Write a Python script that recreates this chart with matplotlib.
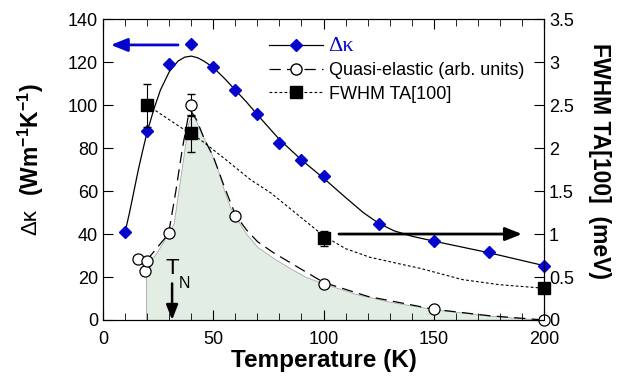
import numpy as np
import matplotlib.pyplot as plt
from matplotlib.lines import Line2D

plt.rcParams['font.family'] = ['Liberation Sans', 'DejaVu Sans']
plt.rcParams['mathtext.fontset'] = 'custom'
plt.rcParams['mathtext.rm'] = 'Liberation Sans:bold'
plt.rcParams['mathtext.default'] = 'rm'

blue = '#0505cc'

# delta kappa data (left axis)
t_kappa = [10, 20, 30, 40, 50, 60, 70, 80, 90, 100, 125, 150, 175, 200]
kappa = [41, 88, 119, 128.4, 117.7, 107, 96, 82.3, 74.5, 67, 44.6, 36.7, 31.6, 25]

# fit curve through delta kappa
t_kfit = [10, 12, 14, 16, 18, 20, 23, 26, 30, 34, 37, 40, 43, 46, 50, 55, 60, 65, 70,
          80, 90, 100, 110, 118, 125, 132, 140, 150, 175, 200]
kfit = [41, 50, 60, 70, 79, 87.5, 98, 107, 115.5, 120.5, 122.3, 122.8, 122, 120.3, 117.5,
        112.5, 107, 101.5, 95.5, 84, 74.5, 66, 57, 50, 45, 41.5, 39, 36.7, 31.3, 25.3]

# quasi-elastic intensity (left axis units)
t_qe = [16, 18.8, 20, 30, 40, 60, 100, 150, 200]
qe = [28.4, 23, 27.4, 40.5, 100, 48.3, 16.7, 5, 0]
t_qe_err = [40]
qe_err_val = [100]
qe_err = [5]

# quasi-elastic dashed guide
t_qe_line = [20, 24, 28, 30, 33, 36, 38.5, 40, 42.5, 46, 50, 55, 60, 65, 70, 77, 86, 100,
             120, 150, 175, 200]
qe_line = [28, 33, 38, 42, 60, 80, 94, 97, 93, 84, 76, 62, 49, 42, 36.5, 31.5, 26, 17.5,
           11, 5, 2, 0]

# shaded area boundary
t_fill = [19.5, 19.5, 21, 24, 27, 30, 32, 34, 36, 38.6, 40.4, 42, 45, 48.5, 52, 55, 57.6,
          60, 65, 70, 77, 85, 92, 100, 115, 130, 150, 175, 200]
fill = [0, 22, 27, 31, 36, 41, 45, 59, 73, 91.6, 96, 93, 86, 79, 70, 60, 52.5, 48, 40,
        34, 29, 24, 20, 17, 12, 8.5, 5, 2, 0]

# FWHM TA[100] (right axis, meV)
t_fwhm = [20, 40, 100, 200]
fwhm = [2.5, 2.17, 0.95, 0.37]
fwhm_err = [0.25, 0.21, 0.09, 0]

t_ffit = [20, 23, 30, 40, 44, 54, 67, 76, 88, 100, 110, 121, 135, 144, 163, 180, 200]
ffit = [2.5, 2.45, 2.33, 2.16, 2.1, 1.9, 1.63, 1.48, 1.23, 0.98, 0.83, 0.73, 0.65, 0.6,
        0.47, 0.41, 0.37]

fig = plt.figure(figsize=(6.21, 3.83), dpi=100)
ax = fig.add_axes([0.166, 0.1645, 0.710, 0.7855])
ax2 = ax.twinx()

ax.fill_between(t_fill, fill, 0, color='#e2ede3', edgecolor='#a8a8a8', lw=0.6, zorder=1)
ax.plot(t_qe_line, qe_line, color='black', lw=0.9, dashes=(9, 5), zorder=2)
ax.errorbar(t_qe_err, qe_err_val, yerr=qe_err, fmt='none', ecolor='black', elinewidth=0.8,
            capsize=3, zorder=3)
ax.plot(t_qe, qe, 'o', ms=8, mfc='white', mec='black', mew=0.9, zorder=4, clip_on=False)

ax.plot(t_kfit, kfit, color='black', lw=0.9, zorder=5)
ax.plot(t_kappa, kappa, 'D', ms=6, color=blue, mec=blue, zorder=6, clip_on=False)

ax2.plot(t_ffit, ffit, color='black', lw=0.8, dashes=(2.5, 2), zorder=2)
eb = ax2.errorbar(t_fwhm, fwhm, yerr=fwhm_err, fmt='s', ms=8.5, color='black',
                  ecolor='black', elinewidth=0.8, capsize=3, zorder=3)
eb[0].set_clip_on(False)

ax.set_xlim(0, 200)
ax.set_ylim(0, 140)
ax2.set_ylim(0, 3.5)
ax.set_xticks([0, 50, 100, 150, 200])
ax.set_xticks(np.arange(0, 201, 10), minor=True)
ax.set_yticks(np.arange(0, 141, 20))
ax2.set_yticks([0, 0.5, 1, 1.5, 2, 2.5, 3, 3.5])
ax2.set_yticklabels(['0', '0.5', '1', '1.5', '2', '2.5', '3', '3.5'])
ax.tick_params(axis='x', which='both', direction='in', top=True, labelsize=13, pad=8)
ax.tick_params(axis='x', which='major', length=7)
ax.tick_params(axis='x', which='minor', length=5)
ax.tick_params(axis='y', direction='in', length=7, labelsize=13, right=False)
ax2.tick_params(axis='y', direction='in', length=7, labelsize=13)

ax.set_xlabel('Temperature (K)', fontsize=17.5, fontweight='bold', labelpad=1)
fig.text(0.049, 0.42, 'Δκ', rotation=90, fontsize=16, ha='center', va='center')
fig.text(0.050, 0.635, '(Wm$^{-1}$K$^{-1}$)', rotation=90, fontsize=16.5,
         fontweight='bold', ha='center', va='center')
fig.text(0.966, 0.58, 'FWHM TA[100]  (meV)', rotation=270, fontsize=16.5,
         fontweight='bold', ha='center', va='center')

# arrows marking which axis each curve belongs to
ax.annotate('', xy=(3.5, 128), xytext=(34, 128),
            arrowprops=dict(arrowstyle='-|>,head_length=1.0,head_width=0.4', color=blue,
                            lw=2, shrinkA=0, shrinkB=0))
ax2.annotate('', xy=(190, 1.0), xytext=(107, 1.0),
             arrowprops=dict(arrowstyle='-|>,head_length=1.0,head_width=0.4', color='black',
                             lw=2, shrinkA=0, shrinkB=0))

# T_N marker
ax.annotate('', xy=(31.3, 0), xytext=(31.3, 17),
            arrowprops=dict(arrowstyle='-|>,head_length=0.9,head_width=0.35', color='black',
                            lw=1.8, shrinkA=0, shrinkB=0))
ax.text(31.3, 24, 'T', fontsize=16, ha='center', va='center')
ax.text(37, 17, 'N', fontsize=11.5, ha='center', va='center')

handles = [Line2D([], [], color='black', lw=0.9, marker='D', ms=6, mfc=blue, mec=blue),
           Line2D([], [], color='black', lw=0.9, dashes=(9, 5), marker='o', ms=8,
                  mfc='white', mec='black'),
           Line2D([], [], color='black', lw=0.8, dashes=(2.5, 2), marker='s', ms=8.5,
                  mfc='black', mec='black')]
labels = ['Δκ', 'Quasi-elastic (arb. units)', 'FWHM TA[100]']
leg = ax2.legend(handles, labels, loc='upper left', bbox_to_anchor=(0.36, 0.965),
                 frameon=False, fontsize=13, handlelength=3.0, handletextpad=0.3,
                 labelspacing=0.35, borderaxespad=0)
t0 = leg.get_texts()[0]
t0.set_color(blue)
t0.set_fontfamily('Liberation Serif')
t0.set_fontsize(16)

fig.savefig('out.png', dpi=100)
